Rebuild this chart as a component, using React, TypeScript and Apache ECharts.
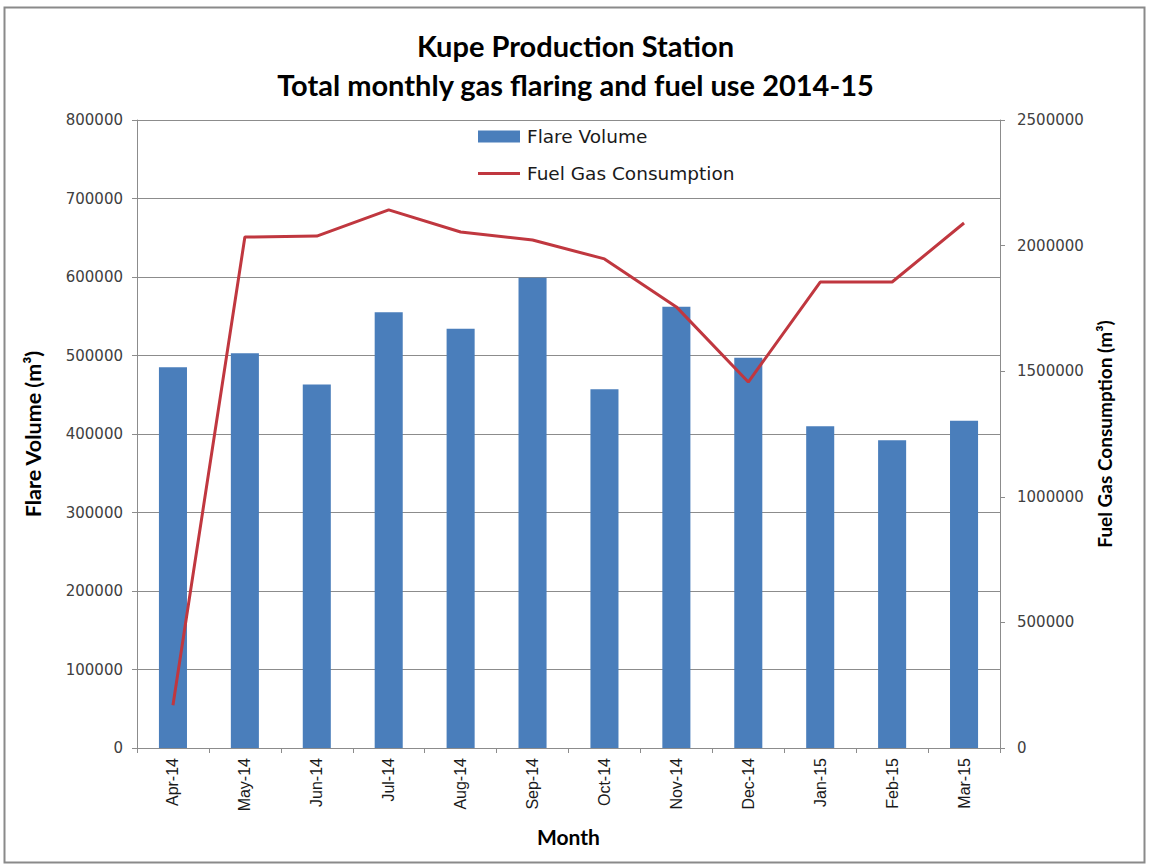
import React, { useEffect, useRef } from "react";
import * as echarts from "echarts";

const months = ["Apr-14", "May-14", "Jun-14", "Jul-14", "Aug-14", "Sep-14", "Oct-14", "Nov-14", "Dec-14", "Jan-15", "Feb-15", "Mar-15"];
const flareVolume = [485000, 503000, 463000, 555000, 534000, 599000, 457000, 562000, 497000, 410000, 392000, 417000];
const fuelGas = [170000, 2034000, 2038000, 2142000, 2054000, 2022000, 1947000, 1756000, 1457000, 1855000, 1855000, 2090000];

const titleText = "Kupe Production Station\nTotal monthly gas flaring and fuel use 2014-15";

export default function App() {
  const ref = useRef<HTMLDivElement>(null);
  useEffect(() => {
    const chart = echarts.init(ref.current!, undefined, { renderer: "svg" });
    const gridColor = "#8c8c8c";
    const plain = (v: number) => String(v);
    chart.setOption({
      animation: false,
      backgroundColor: "#ffffff",
      title: {
        text: titleText,
        left: "center",
        top: 21,
        textStyle: { fontFamily: "Lato", fontWeight: "bold", fontSize: 29, lineHeight: 39, color: "#000" },
      },
      graphic: [
        {
          type: "rect",
          shape: { x: 4.5, y: 7.5, width: 1140, height: 855 },
          style: { fill: "none", stroke: "#8a8a8a", lineWidth: 2 },
          silent: true,
        },
      ],
      legend: {
        orient: "vertical",
        left: 473,
        top: 122,
        itemWidth: 42,
        itemHeight: 12,
        itemGap: 18,
        textStyle: { fontFamily: "DejaVu Sans", fontSize: 18.5, color: "#1a1a1a", padding: [0, 0, 0, 2] },
        data: [
          { name: "Flare Volume", icon: "rect" },
          { name: "Fuel Gas Consumption", icon: "path://M0,0 L42,0 L42,3 L0,3 Z" },
        ],
      },
      grid: { left: 137, right: 151, top: 120, bottom: 116 },
      xAxis: {
        type: "category",
        data: months,
        name: "Month",
        nameLocation: "middle",
        nameGap: 78,
        nameTextStyle: { fontFamily: "Lato", fontWeight: "bold", fontSize: 21, color: "#000" },
        axisLine: { lineStyle: { color: gridColor } },
        axisTick: { show: true, length: 5, lineStyle: { color: gridColor } },
        axisLabel: { rotate: 90, margin: 10, fontFamily: "Liberation Sans", fontSize: 16, color: "#1a1a1a" },
      },
      yAxis: [
        {
          type: "value",
          min: 0,
          max: 800000,
          interval: 100000,
          name: "Flare Volume (m³)",
          nameLocation: "middle",
          nameRotate: 90,
          nameGap: 93,
          nameTextStyle: { fontFamily: "Lato", fontWeight: "bold", fontSize: 21.5, color: "#000" },
          axisLine: { show: true, lineStyle: { color: gridColor } },
          axisTick: { show: true, length: 5, lineStyle: { color: gridColor } },
          axisLabel: { margin: 14, fontFamily: "DejaVu Sans", fontSize: 15, color: "#404040", formatter: plain },
          splitLine: { show: true, lineStyle: { color: gridColor, width: 1 } },
        },
        {
          type: "value",
          min: 0,
          max: 2500000,
          interval: 500000,
          position: "right",
          name: "Fuel Gas Consumption (m³)",
          nameLocation: "middle",
          nameRotate: 90,
          nameGap: 94,
          nameTextStyle: { fontFamily: "Lato", fontWeight: "bold", fontSize: 19, color: "#000" },
          axisLine: { show: true, lineStyle: { color: gridColor } },
          axisTick: { show: true, length: 5, lineStyle: { color: gridColor } },
          axisLabel: { margin: 17, fontFamily: "DejaVu Sans", fontSize: 15, color: "#404040", formatter: plain },
          splitLine: { show: false },
        },
      ],
      series: [
        {
          name: "Flare Volume",
          type: "bar",
          data: flareVolume,
          yAxisIndex: 0,
          barWidth: "39%",
          itemStyle: { color: "#4a7ebb" },
        },
        {
          name: "Fuel Gas Consumption",
          type: "line",
          data: fuelGas,
          yAxisIndex: 1,
          symbol: "none",
          lineStyle: { color: "#c0373f", width: 3 },
          itemStyle: { color: "#c0373f" },
        },
      ],
    });
    return () => chart.dispose();
  }, []);
  return <div ref={ref} style={{ width: 1151, height: 864, position: "absolute", left: 0, top: 0 }} />;
}
